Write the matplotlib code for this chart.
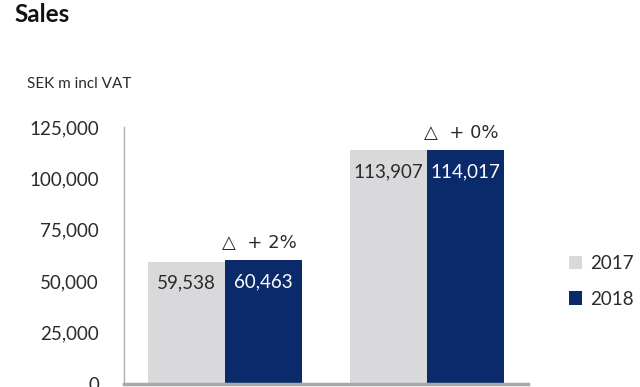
import matplotlib.pyplot as plt
import numpy as np

plt.rcParams["font.family"] = ["Lato", "DejaVu Sans"]

groups = ["Group A", "Group B"]
years = ["2017", "2018"]
sales_2017 = [59538, 113907]
sales_2018 = [60463, 114017]
changes = ["+ 2%", "+ 0%"]
yticks = [0, 25000, 50000, 75000, 100000, 125000]

light = "#d9d9dc"
navy = "#0b2a6c"
text_col = "#2b2b2b"

fig = plt.figure(figsize=(6.4, 3.87), dpi=100)
ax = fig.add_axes([124 / 640, 3 / 387, 404 / 640, 257 / 387])

x = np.arange(len(groups))
w = 0.38
ax.bar(x - w / 2, sales_2017, w, color=light, label=years[0])
ax.bar(x + w / 2, sales_2018, w, color=navy, label=years[1])

for i in range(len(groups)):
    ax.text(x[i] - w / 2, sales_2017[i] - 10500, f"{sales_2017[i]:,}",
            ha="center", va="center", fontsize=13.5, color=text_col)
    ax.text(x[i] + w / 2, sales_2018[i] - 11000, f"{sales_2018[i]:,}",
            ha="center", va="center", fontsize=13.5, color="white")
    ax.text(x[i] + w / 2 - 0.02, sales_2018[i] + 8000, f"\u25b3  {changes[i]}",
            ha="center", va="center", fontsize=13, color=text_col,
            family=["DejaVu Sans"])

ax.set_xlim(-0.5, 1.5)
ax.set_ylim(0, 125000)
ax.set_yticks(yticks)
ax.set_yticklabels([f"{v:,}" for v in yticks])
ax.tick_params(axis="y", length=0, pad=18, labelsize=13.5, labelcolor=text_col)
ax.set_xticks([])
for s in ["top", "right"]:
    ax.spines[s].set_visible(False)
ax.spines["left"].set_color("#b0b0b0")
ax.spines["left"].set_linewidth(1)
ax.spines["bottom"].set_color("#a8a8a8")
ax.spines["bottom"].set_linewidth(2.5)

fig.text(14 / 640, 1 - 15 / 387, "Sales", fontsize=17.5, fontweight="bold",
         va="center", ha="left", color="#111111")
fig.text(27 / 640, 1 - 84 / 387, "SEK m incl VAT", fontsize=11,
         va="center", ha="left", color=text_col)

ax.legend(loc="center left", bbox_to_anchor=(1.06, 0.40), frameon=False,
          fontsize=13.5, handlelength=0.7, handleheight=0.7, handletextpad=0.4,
          labelspacing=1.0, labelcolor=text_col)

fig.savefig("out.png", dpi=100, facecolor="white")
